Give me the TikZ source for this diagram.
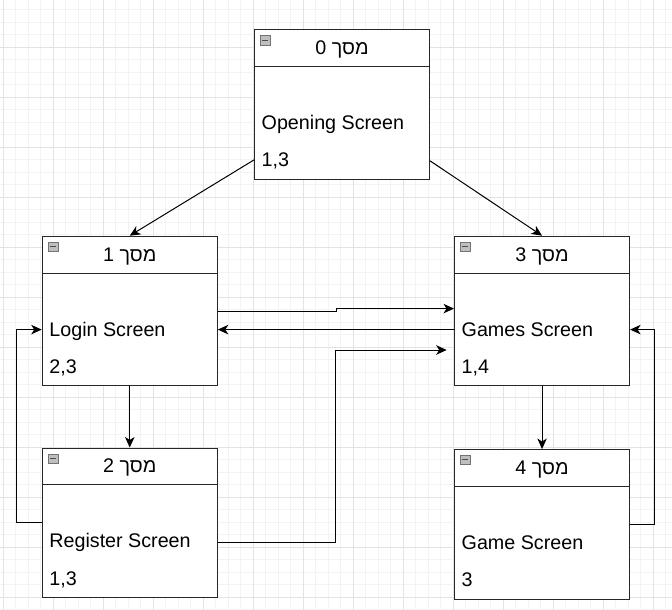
\documentclass[tikz,border=0pt]{standalone}
\usepackage{fontspec}
\setmainfont{Liberation Sans}
\newfontfamily\hebfont[Script=Hebrew]{Liberation Sans}
\TeXXeTstate=1
\usetikzlibrary{arrows.meta}

\definecolor{gridminor}{HTML}{F3F3F3}
\definecolor{gridmajor}{HTML}{E3E3E3}

\tikzset{
	screen/.style={draw=black!85, line width=1.1pt, fill=white, anchor=north west, minimum width=175pt, minimum height=149.5pt, inner sep=0pt},
	title/.style={font=\hebfont\fontsize{19.7pt}{23pt}\selectfont, anchor=base, inner sep=0pt},
	body/.style={font=\fontsize{19.7pt}{23pt}\selectfont, anchor=base west, inner sep=0pt},
	icon/.style={draw=black!55, fill=black!25, anchor=north west, minimum width=10pt, minimum height=9.3pt, inner sep=0pt,
		path picture={\draw[black!70, line width=0.9pt] ([xshift=2pt]path picture bounding box.west) -- ([xshift=-2pt]path picture bounding box.east);}},
	link/.style={-{Stealth[length=10.5pt, width=9.5pt, inset=3pt]}, line width=1pt, black}
}

\begin{document}
\begin{tikzpicture}[x=1pt, y=-1pt]
			\useasboundingbox (0,0) rectangle (672,610);
			\clip (0,0) rectangle (672,610);
			% Grid
			\begin{scope}[shift={(3.3,-2.7)}]
				\draw[gridminor, line width=0.8pt, step=12.5pt] (-12.5,-12.5) grid (675,625);
				\draw[gridmajor, line width=0.9pt, step=50pt] (-50,-50) grid (700,650);
			\end{scope}
			% Screens
			\foreach \n/\x/\y/\name/\links in {0/254/29.3/Opening Screen/{1,3}, 1/41.7/235.7/Login Screen/{2,3}, 2/41.7/447.5/Register Screen/{1,3}, 3/454/235.7/Games Screen/{1,4}, 4/454/449/Game Screen/3} {
				\node[screen] (scr\n) at (\x,\y) {};
				\draw[black!85, line width=1.1pt] ([yshift=-37.4pt]scr\n.north west) -- ([yshift=-37.4pt]scr\n.north east);
				\node[icon] (icon\n) at ([xshift=6pt, yshift=-6pt]scr\n.north west) {};
				\node[title] (title\n) at ([yshift=-25.3pt]scr\n.north) {\beginR מסך \n\endR};
				\node[body] (name\n) at ([xshift=7.5pt, yshift=-100.3pt]scr\n.north west) {\name};
				\node[body] (links\n) at ([xshift=7.5pt, yshift=-137.6pt]scr\n.north west) {\links};
			}
			\coordinate (bend23) at (335,350);
			\coordinate (end23) at (446.7,350);
			% Links
			\draw[link] ([yshift=20pt]scr0.south west) -- (scr1.north);
			\draw[link] ([yshift=19pt]scr0.south east) -- (scr3.north);
			\draw[link] (scr1.east) -- ++(118.3,0) |- ([yshift=2.4pt]scr3.west);
			\draw[link] ([yshift=-18.6pt]scr3.west) -- ([yshift=-18.6pt]scr1.east);
			\draw[link] ([yshift=-19.2pt]scr2.east) -| (bend23) -- (end23);
			\draw[link] (scr1.south) -- (scr2.north);
			\draw[link] (scr2.west) -- ++(-25,0) |- ([yshift=-18.6pt]scr1.west);
			\draw[link] (scr3.south) -- (scr4.north);
			\draw[link] (scr4.east) -- ++(24.3,0) |- ([yshift=-18.6pt]scr3.east);
		\end{tikzpicture}
\end{document}
